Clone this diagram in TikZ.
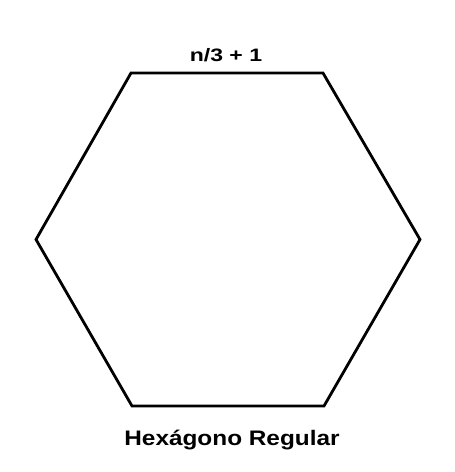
\documentclass[tikz,border=0pt]{standalone}
\usepackage{fontspec}
\setmainfont{Liberation Sans}
\tikzset{
  edge/.style={draw,line width=2.8pt,line join=miter},
  lbl/.style={font=\bfseries\fontsize{18}{20}\selectfont,inner sep=0pt,anchor=base,xscale=1.28,transform shape},
  title/.style={font=\bfseries\fontsize{21}{24}\selectfont,inner sep=0pt,anchor=base,xscale=1.16,transform shape}
}
\begin{document}
\begin{tikzpicture}[x=1pt,y=-1pt]
\useasboundingbox (0,0) rectangle (455,472);
% vertices of the hexagon
\coordinate (tl) at (131,73);
\coordinate (tr) at (323,73);
\coordinate (r) at (420,239.5);
\coordinate (br) at (324,406);
\coordinate (bl) at (132,406);
\coordinate (l) at (36,239.5);
\draw[edge] (tl) -- (tr) -- (r) -- (br) -- (bl) -- (l) -- cycle;
\node[lbl] (side) at (226,61) {n/3 + 1};
\node[title] (name) at (232,445) {Hexágono Regular};
\end{tikzpicture}
\end{document}
